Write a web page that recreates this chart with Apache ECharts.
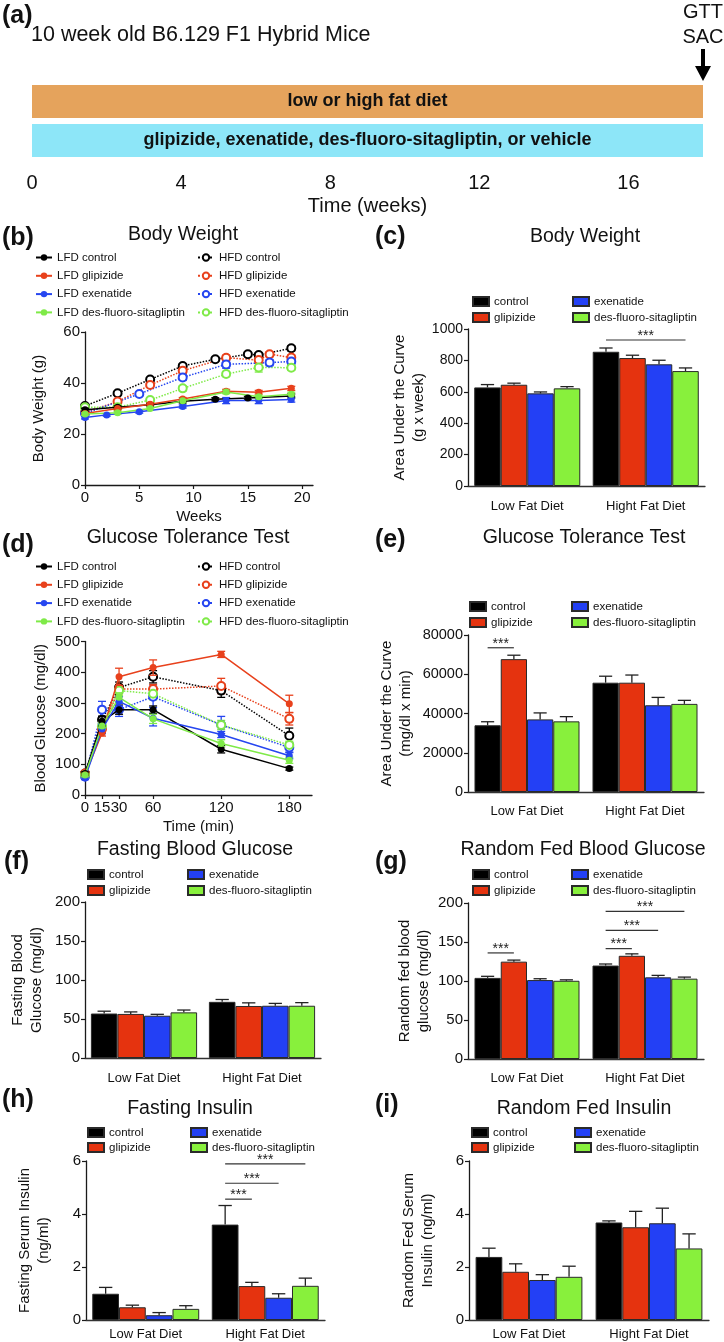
<!DOCTYPE html>
<html><head><meta charset="utf-8">
<script src="https://cdn.jsdelivr.net/npm/echarts@6/dist/echarts.min.js"></script>
<style>html,body{margin:0;padding:0;background:#fff}#c{width:724px;height:1342px}</style>
</head><body><div id="c"></div>
<script>
const FONT = '"Liberation Sans", Arial, Helvetica, sans-serif';

// ---------- DATA ----------
// (a) timeline
const timelineBars = ['low or high fat diet', 'glipizide, exenatide, des-fluoro-sitagliptin, or vehicle'];
const timelineLength = [18, 18];
const timelineTicks = [0, 4, 8, 12, 16];

const groups = ['control', 'glipizide', 'exenatide', 'des-fluoro-sitagliptin'];
const diets = ['Low Fat Diet', 'Hight Fat Diet'];
const lineNamesLFD = ['LFD control', 'LFD glipizide', 'LFD exenatide', 'LFD des-fluoro-sitagliptin'];
const lineNamesHFD = ['HFD control', 'HFD glipizide', 'HFD exenatide', 'HFD des-fluoro-sitagliptin'];

// (b) body weight: [week, g, sem]
const bwLFDcontrol = [[0,29.5,0.6],[3,30.5,0.5],[6,31.5,0.5],[9,32.8,0.6],[12,33.6,0.6],[15,34.1,0.7],[19,34.9,0.8]];
const bwLFDglipizide = [[0,28,0.5],[3,30,0.5],[6,31.7,0.5],[9,33.7,0.6],[13,36.8,0.7],[16,36.4,0.7],[19,37.9,0.8]];
const bwLFDexenatide = [[0,26.5,0.6],[2,27.5,0.5],[5,28.7,0.5],[9,30.8,0.6],[13,33.1,1.2],[16,33.1,1.2],[19,33.5,1.0]];
const bwLFDdesfluoro = [[0,27.8,0.5],[3,28.3,0.5],[6,30,0.5],[9,33,0.6],[13,36.5,0.7],[16,34.6,0.7],[19,35.6,0.8]];
const bwHFDcontrol = [[0,31,0.6],[3,36,0.6],[6,41.4,0.7],[9,46.7,0.8],[12,49.3,0.8],[15,51.3,0.8],[16,51,0.9],[19,53.6,1.0]];
const bwHFDglipizide = [[0,28.5,0.6],[3,32.7,0.6],[6,39.2,0.8],[9,44.8,1.0],[13,49.9,1.0],[16,49,1.2],[17,51.3,1.0],[19,50,1.0]];
const bwHFDexenatide = [[0,28,0.6],[5,35.7,0.8],[9,42.2,1.2],[13,47.3,1.5],[17,48,1.2],[19,48.4,1.2]];
const bwHFDdesfluoro = [[0,30.5,0.6],[3,30.5,0.6],[6,33.3,0.8],[9,37.9,1.0],[13,43.5,1.0],[16,46.1,1.8],[19,46,1.0]];

// (d) GTT: [min, mg/dl, sem]
const gttLFDcontrol = [[0,70,5],[15,240,15],[30,278,15],[60,278,12],[120,149,12],[180,86,5]];
const gttLFDglipizide = [[0,65,5],[15,202,10],[30,385,28],[60,415,25],[120,458,10],[180,297,28]];
const gttLFDexenatide = [[0,55,5],[15,215,15],[30,305,15],[60,250,25],[120,197,10],[180,128,10]];
const gttLFDdesfluoro = [[0,65,5],[15,225,12],[30,318,15],[60,248,15],[120,168,12],[180,113,10]];
const gttHFDcontrol = [[0,70,5],[15,245,12],[30,350,18],[60,385,20],[120,340,22],[180,193,25]];
const gttHFDglipizide = [[0,70,5],[15,215,12],[30,345,15],[60,345,15],[120,355,25],[180,248,20]];
const gttHFDexenatide = [[0,60,5],[15,278,27],[30,278,22],[60,320,35],[120,228,28],[180,155,15]];
const gttHFDdesfluoro = [[0,65,5],[15,225,12],[30,340,15],[60,330,20],[120,228,15],[180,163,12]];

// bar panels: order control, glipizide, exenatide, des-fluoro
const aucWeightLFD = [628, 645, 590, 622];     const aucWeightLFDerr = [18, 10, 9, 11];
const aucWeightHFD = [855, 815, 775, 732];     const aucWeightHFDerr = [24, 18, 26, 20];
const aucGttLFD = [34000, 67700, 37000, 36000]; const aucGttLFDerr = [1800, 2000, 3300, 2400];
const aucGttHFD = [55700, 55700, 44200, 44900]; const aucGttHFDerr = [3300, 3900, 4000, 1800];
const fastGluLFD = [57, 56.5, 54.2, 58.5];      const fastGluLFDerr = [3, 2.6, 1.8, 3];
const fastGluHFD = [72, 66.7, 67, 67];          const fastGluHFDerr = [3, 4, 3, 4];
const fedGluLFD = [104, 124.8, 101.2, 100.3];   const fedGluLFDerr = [2, 2, 1.7, 1.2];
const fedGluHFD = [119.8, 132.3, 104.7, 103];   const fedGluHFDerr = [2, 2.5, 2.5, 2];
const fastInsLFD = [0.99, 0.48, 0.18, 0.42];    const fastInsLFDerr = [0.24, 0.08, 0.1, 0.12];
const fastInsHFD = [3.6, 1.28, 0.84, 1.29];     const fastInsHFDerr = [0.72, 0.14, 0.15, 0.29];
const fedInsLFD = [2.38, 1.82, 1.51, 1.63];     const fedInsLFDerr = [0.33, 0.3, 0.2, 0.4];
const fedInsHFD = [3.68, 3.5, 3.65, 2.7];       const fedInsHFDerr = [0.06, 0.6, 0.57, 0.55];

// significance brackets: [diet index, from group, to group, y value]
const sigWeight = [[1, 0, 3, 930]];
const sigGtt = [[0, 0, 1, 73500]];
const sigFedGlu = [[0, 0, 1, 136], [1, 0, 1, 141.5], [1, 0, 2, 165], [1, 0, 3, 189.3]];
const sigFastIns = [[1, 0, 1, 4.56], [1, 0, 2, 5.16], [1, 0, 3, 5.89]];

// ---------- STYLE ----------
const barColors = ['#000000', '#E5330F', '#2340F5', '#88F03C'];
const lineColors = ['#000000', '#E8411C', '#2646F0', '#7FEA48'];
const INK = '#1a1a1a';
const plain = v => String(v);

const chart = echarts.init(document.getElementById('c'));
const grids = [], xAxes = [], yAxes = [], series = [], legends = [], graphics = [];

// ---------- (a) timeline ----------
grids.push({left: 32, top: 82, width: 671, height: 78});
xAxes.push({gridIndex: 0, type: 'value', min: 0, max: 18, offset: 3,
  axisLine: {lineStyle: {color: '#000', width: 6}}, axisTick: {show: false}, splitLine: {show: false},
  axisLabel: {customValues: timelineTicks, fontSize: 20, color: '#111', margin: 10, fontFamily: FONT},
  name: 'Time (weeks)', nameLocation: 'middle', nameGap: 33,
  nameTextStyle: {fontSize: 20, color: '#111', fontFamily: FONT}});
yAxes.push({gridIndex: 0, type: 'category', data: timelineBars, inverse: true, show: false});
series.push({type: 'bar', xAxisIndex: 0, yAxisIndex: 0, barWidth: 33, silent: true,
  data: timelineLength.map((v, i) => ({value: v, itemStyle: {color: i === 0 ? '#E5A35C' : '#8DE6F8'}})),
  label: {show: true, position: 'inside', formatter: '{b}', color: '#111', fontWeight: 'bold', fontSize: 18, fontFamily: FONT}});

// ---------- helpers ----------
function valueYAxis(gi, max, interval, name, nameGap, fs) {
  return {gridIndex: gi, type: 'value', min: 0, max: max, interval: interval,
    axisLine: {show: true, lineStyle: {color: INK, width: 1.3}},
    axisTick: {show: true, length: 4, lineStyle: {color: INK, width: 1.2}},
    splitLine: {show: false},
    axisLabel: {fontSize: fs, color: '#111', margin: 5, fontFamily: FONT, formatter: plain},
    name: name, nameLocation: 'middle', nameGap: nameGap,
    nameTextStyle: {fontSize: 15, lineHeight: 19, color: '#111', fontFamily: FONT}};
}

function addBarPanel(p) {
  const gi = grids.length;
  grids.push({left: p.left, top: p.top, width: p.width, height: p.height});
  xAxes.push({gridIndex: gi, type: 'category', data: diets, axisTick: {show: false},
    axisLine: {lineStyle: {color: '#333', width: 1.3}},
    axisLabel: {color: '#111', fontSize: 13, margin: p.labelMargin, fontFamily: FONT}});
  yAxes.push(valueYAxis(gi, p.max, p.interval, p.yName, p.nameGap, p.tickFont));
  const errData = [];
  groups.forEach((g, k) => {
    series.push({type: 'bar', name: g, xAxisIndex: gi, yAxisIndex: gi,
      data: [p.lfd[k], p.hfd[k]], barGap: '0%', barCategoryGap: p.gap + '%',
      itemStyle: {color: barColors[k], borderColor: '#2a2a2a', borderWidth: 1}, z: 2, silent: true});
    errData.push([0, k, p.lfd[k], p.lfdErr[k]]);
    errData.push([1, k, p.hfd[k], p.hfdErr[k]]);
  });
  const gap = p.gap;
  series.push({type: 'custom', xAxisIndex: gi, yAxisIndex: gi, z: 3, silent: true,
    encode: {x: 0, y: 2}, data: errData,
    renderItem: function (params, api) {
      const d = api.value(0), k = api.value(1), m = api.value(2), e = api.value(3);
      const base = api.coord([d, m]);
      const top = api.coord([d, m + e]);
      const band = api.size([1, 0])[0];
      const bw = band * (1 - gap / 100) / 4;
      const x = base[0] + (k - 1.5) * bw;
      const cw = bw * 0.25;
      return {type: 'group', children: [
        {type: 'line', shape: {x1: x, y1: base[1], x2: x, y2: top[1]}, style: {stroke: '#222', lineWidth: 1.3}},
        {type: 'line', shape: {x1: x - cw, y1: top[1], x2: x + cw, y2: top[1]}, style: {stroke: '#222', lineWidth: 1.3}}
      ]};
    }});
  if (p.sig && p.sig.length) {
    series.push({type: 'custom', xAxisIndex: gi, yAxisIndex: gi, z: 3, silent: true,
      encode: {x: 0, y: 3}, data: p.sig,
      renderItem: function (params, api) {
        const d = api.value(0), k1 = api.value(1), k2 = api.value(2), y = api.value(3);
        const c = api.coord([d, y]);
        const band = api.size([1, 0])[0];
        const bw = band * (1 - gap / 100) / 4;
        const x1 = c[0] + (k1 - 1.5) * bw, x2 = c[0] + (k2 - 1.5) * bw;
        return {type: 'group', children: [
          {type: 'line', shape: {x1: x1, y1: c[1], x2: x2, y2: c[1]}, style: {stroke: '#333', lineWidth: 1.2}},
          {type: 'text', x: (x1 + x2) / 2, y: c[1] + 3, style: {text: '***', fill: '#222', fontSize: 14, fontFamily: FONT, align: 'center', verticalAlign: 'bottom'}}
        ]};
      }});
  }
  const lg = {orient: 'vertical', padding: 0, itemWidth: 16, itemHeight: 9, itemGap: p.legendGap, icon: 'rect',
    textStyle: {fontSize: 11.5, lineHeight: 13, color: '#111', fontFamily: FONT}, selectedMode: false};
  legends.push(Object.assign({}, lg, {left: p.lg1[0], top: p.lg1[1], data: [groups[0], groups[1]]}));
  legends.push(Object.assign({}, lg, {left: p.lg2[0], top: p.lg2[1], data: [groups[2], groups[3]]}));
}

function addLinePanel(p) {
  const gi = grids.length;
  grids.push({left: p.left, top: p.top, width: p.width, height: p.height});
  xAxes.push({gridIndex: gi, type: 'value', min: 0, max: p.xMax,
    axisLine: {lineStyle: {color: INK, width: 1.3}},
    axisTick: {show: true, length: 4, customValues: p.xTicks, lineStyle: {color: INK, width: 1.2}},
    splitLine: {show: false},
    axisLabel: {customValues: p.xTicks, fontSize: 15, color: '#111', margin: 5, fontFamily: FONT},
    name: p.xName, nameLocation: 'middle', nameGap: 24,
    nameTextStyle: {fontSize: 15, color: '#111', fontFamily: FONT}});
  yAxes.push(valueYAxis(gi, p.yMax, p.yInterval, p.yName, p.nameGap, 15));
  const all = p.hfd.concat(p.lfd);
  const names = lineNamesHFD.concat(lineNamesLFD);
  all.forEach((arr, idx) => {
    const k = idx % 4, isH = idx < 4;
    const col = lineColors[k];
    series.push({type: 'custom', xAxisIndex: gi, yAxisIndex: gi, z: isH ? 2 : 4, silent: true,
      encode: {x: 0, y: 1}, data: arr,
      renderItem: function (params, api) {
        const x = api.value(0), y = api.value(1), e = api.value(2);
        const a = api.coord([x, y + e]), b = api.coord([x, y - e]);
        return {type: 'group', children: [
          {type: 'line', shape: {x1: a[0], y1: a[1], x2: b[0], y2: b[1]}, style: {stroke: col, lineWidth: 1.3}},
          {type: 'line', shape: {x1: a[0] - 4, y1: a[1], x2: a[0] + 4, y2: a[1]}, style: {stroke: col, lineWidth: 1.3}},
          {type: 'line', shape: {x1: b[0] - 4, y1: b[1], x2: b[0] + 4, y2: b[1]}, style: {stroke: col, lineWidth: 1.3}}
        ]};
      }});
    series.push({type: 'line', name: names[idx], xAxisIndex: gi, yAxisIndex: gi, z: isH ? 3 : 5, silent: true,
      data: arr.map(r => [r[0], r[1]]),
      symbol: isH ? 'emptyCircle' : 'circle', symbolSize: isH ? 8 : 7,
      lineStyle: {color: col, width: 1.5, type: isH ? 'dotted' : 'solid'},
      itemStyle: {color: col, borderWidth: isH ? 1.2 : 0}});
  });
  const lg = {orient: 'vertical', padding: 0, itemWidth: 16, itemHeight: 8, itemGap: 5.3,
    textStyle: {fontSize: 11.5, lineHeight: 13, color: '#111', fontFamily: FONT}, selectedMode: false};
  legends.push(Object.assign({}, lg, {left: p.lg1[0], top: p.lg1[1], data: lineNamesLFD}));
  legends.push(Object.assign({}, lg, {left: p.lg2[0], top: p.lg2[1], data: lineNamesHFD}));
}

// ---------- panels ----------
addLinePanel({left: 85, top: 332, width: 228, height: 153, xMax: 21, xTicks: [0, 5, 10, 15, 20],
  yMax: 60, yInterval: 20, xName: 'Weeks', yName: 'Body Weight (g)', nameGap: 37,
  lfd: [bwLFDcontrol, bwLFDglipizide, bwLFDexenatide, bwLFDdesfluoro],
  hfd: [bwHFDcontrol, bwHFDglipizide, bwHFDexenatide, bwHFDdesfluoro],
  lg1: [35, 251], lg2: [197, 251]});

addBarPanel({left: 468, top: 329, width: 237, height: 157, gap: 10.5, max: 1000, interval: 200, tickFont: 14,
  yName: 'Area Under the Curve\n(g x week)', nameGap: 36, labelMargin: 14,
  lfd: aucWeightLFD, hfd: aucWeightHFD, lfdErr: aucWeightLFDerr, hfdErr: aucWeightHFDerr, sig: sigWeight,
  lg1: [472, 295], lg2: [572, 295], legendGap: 3});

addLinePanel({left: 85, top: 641.5, width: 227, height: 153.5, xMax: 200, xTicks: [0, 15, 30, 60, 120, 180],
  yMax: 500, yInterval: 100, xName: 'Time (min)', yName: 'Blood Glucose (mg/dl)', nameGap: 35,
  lfd: [gttLFDcontrol, gttLFDglipizide, gttLFDexenatide, gttLFDdesfluoro],
  hfd: [gttHFDcontrol, gttHFDglipizide, gttHFDexenatide, gttHFDdesfluoro],
  lg1: [35, 560], lg2: [197, 560]});

addBarPanel({left: 468, top: 635, width: 236, height: 157, gap: 11, max: 80000, interval: 20000, tickFont: 14.5,
  yName: 'Area Under the Curve\n(mg/dl x min)', nameGap: 53, labelMargin: 13,
  lfd: aucGttLFD, hfd: aucGttHFD, lfdErr: aucGttLFDerr, hfdErr: aucGttHFDerr, sig: sigGtt,
  lg1: [469, 600], lg2: [571, 600], legendGap: 3});

addBarPanel({left: 85, top: 902, width: 236, height: 156, gap: 10, max: 200, interval: 50, tickFont: 15,
  yName: 'Fasting Blood\nGlucose (mg/dl)', nameGap: 39, labelMargin: 14,
  lfd: fastGluLFD, hfd: fastGluHFD, lfdErr: fastGluLFDerr, hfdErr: fastGluHFDerr, sig: [],
  lg1: [87, 868], lg2: [187, 868], legendGap: 3});

addBarPanel({left: 468, top: 903, width: 236, height: 156, gap: 11, max: 200, interval: 50, tickFont: 15,
  yName: 'Random fed blood\nglucose (mg/dl)', nameGap: 35, labelMargin: 13,
  lfd: fedGluLFD, hfd: fedGluHFD, lfdErr: fedGluLFDerr, hfdErr: fedGluHFDerr, sig: sigFedGlu,
  lg1: [472, 868], lg2: [571, 868], legendGap: 3});

addBarPanel({left: 86, top: 1161, width: 239, height: 159, gap: 10.5, max: 6, interval: 2, tickFont: 15,
  yName: 'Fasting Serum Insulin\n(ng/ml)', nameGap: 33, labelMargin: 8,
  lfd: fastInsLFD, hfd: fastInsHFD, lfdErr: fastInsLFDerr, hfdErr: fastInsHFDerr, sig: sigFastIns,
  lg1: [87, 1126], lg2: [190, 1126], legendGap: 2});

addBarPanel({left: 469, top: 1161, width: 240, height: 159, gap: 11, max: 6, interval: 2, tickFont: 15,
  yName: 'Random Fed Serum\nInsulin (ng/ml)', nameGap: 32, labelMargin: 8,
  lfd: fedInsLFD, hfd: fedInsHFD, lfdErr: fedInsLFDerr, hfdErr: fedInsHFDerr, sig: [],
  lg1: [471, 1126], lg2: [574, 1126], legendGap: 2});

// ---------- texts ----------
const panelLabels = [['(a)', 2, 16], ['(b)', 2, 238], ['(c)', 375, 237], ['(d)', 2, 545], ['(e)', 375, 540],
  ['(f)', 4, 862], ['(g)', 375, 862], ['(h)', 2, 1100], ['(i)', 375, 1105]];
panelLabels.forEach(t => graphics.push({type: 'text', x: t[1], y: t[2],
  style: {text: t[0], fontSize: 25, fontWeight: 'bold', fontFamily: FONT, fill: '#111', align: 'left', verticalAlign: 'middle'}}));
const titles = [['Body Weight', 183, 235], ['Body Weight', 585, 237], ['Glucose Tolerance Test', 188, 538],
  ['Glucose Tolerance Test', 584, 538], ['Fasting Blood Glucose', 195, 850], ['Random Fed Blood Glucose', 583, 850],
  ['Fasting Insulin', 190, 1109], ['Random Fed Insulin', 584, 1109]];
titles.forEach(t => graphics.push({type: 'text', x: t[1], y: t[2],
  style: {text: t[0], fontSize: 19.5, fontFamily: FONT, fill: '#111', align: 'center', verticalAlign: 'middle'}}));
graphics.push({type: 'text', x: 31, y: 35, style: {text: '10 week old B6.129 F1 Hybrid Mice', fontSize: 21.5, fontFamily: FONT, fill: '#111', align: 'left', verticalAlign: 'middle'}});

chart.setOption({
  animation: false,
  backgroundColor: '#fff',
  textStyle: {fontFamily: FONT},
  grid: grids, xAxis: xAxes, yAxis: yAxes, series: series, legend: legends, graphic: graphics
});

// GTT / SAC arrow placed at the end of the timeline (18 weeks)
const endX = chart.convertToPixel({xAxisIndex: 0}, timelineLength[0]);
chart.setOption({graphic: graphics.concat([
  {type: 'text', x: endX, y: 12, style: {text: 'GTT', fontSize: 20, fontFamily: FONT, fill: '#111', align: 'center', verticalAlign: 'middle'}},
  {type: 'text', x: endX, y: 37, style: {text: 'SAC', fontSize: 20, fontFamily: FONT, fill: '#111', align: 'center', verticalAlign: 'middle'}},
  {type: 'rect', shape: {x: endX - 2, y: 49, width: 4, height: 20}, style: {fill: '#000'}},
  {type: 'polygon', shape: {points: [[endX - 8, 66], [endX + 8, 66], [endX, 81]]}, style: {fill: '#000'}}
])});
</script></body></html>
